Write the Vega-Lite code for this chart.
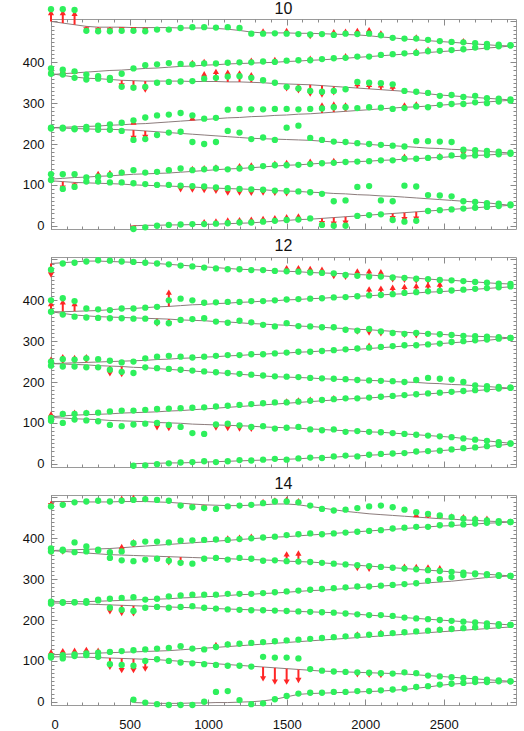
{
  "$schema": "https://vega.github.io/schema/vega-lite/v6.json",
  "background": "white",
  "padding": {"left": 21, "top": 0, "right": 5, "bottom": 5},
  "config": {
    "view": {"stroke": "#9a9a9a", "strokeWidth": 1},
    "font": "Liberation Sans",
    "title": {"fontSize": 16, "font": "Liberation Sans", "fontWeight": "normal", "color": "#111111", "offset": 3, "frame": "group"},
    "axis": {"grid": false, "title": null, "domain": false, "tickColor": "#8a8a8a", "labelFont": "Liberation Sans", "labelFontSize": 13, "labelColor": "#111111"}
  },
  "datasets": {
    "tracks": [
      {"p":10,"t":1,"x":0,"l":500,"g":530,"a":522},
      {"p":10,"t":1,"x":75,"l":496,"g":530,"a":522},
      {"p":10,"t":1,"x":150,"l":492,"g":528,"a":520},
      {"p":10,"t":1,"x":225,"l":488,"g":477,"a":479},
      {"p":10,"t":1,"x":300,"l":486,"g":476,"a":478},
      {"p":10,"t":1,"x":375,"l":486,"g":476,"a":478},
      {"p":10,"t":1,"x":450,"l":486,"g":477,"a":479},
      {"p":10,"t":1,"x":525,"l":485,"g":477,"a":479},
      {"p":10,"t":1,"x":600,"l":485,"g":476,"a":478},
      {"p":10,"t":1,"x":675,"l":485,"g":480},
      {"p":10,"t":1,"x":750,"l":485,"g":480},
      {"p":10,"t":1,"x":825,"l":484,"g":484},
      {"p":10,"t":1,"x":900,"l":484,"g":486},
      {"p":10,"t":1,"x":975,"l":484,"g":486},
      {"p":10,"t":1,"x":1050,"l":483,"g":485},
      {"p":10,"t":1,"x":1125,"l":481,"g":486},
      {"p":10,"t":1,"x":1200,"l":478,"g":484},
      {"p":10,"t":1,"x":1275,"l":474,"g":470},
      {"p":10,"t":1,"x":1350,"l":472,"g":470,"a":477},
      {"p":10,"t":1,"x":1425,"l":472,"g":471},
      {"p":10,"t":1,"x":1500,"l":472,"g":470,"a":478},
      {"p":10,"t":1,"x":1575,"l":471,"g":469},
      {"p":10,"t":1,"x":1650,"l":471,"g":468,"a":463},
      {"p":10,"t":1,"x":1725,"l":470,"g":469},
      {"p":10,"t":1,"x":1800,"l":469,"g":467,"a":475},
      {"p":10,"t":1,"x":1875,"l":468,"g":470,"a":476},
      {"p":10,"t":1,"x":1950,"l":467,"g":469,"a":478},
      {"p":10,"t":1,"x":2025,"l":465,"g":470,"a":480},
      {"p":10,"t":1,"x":2100,"l":462,"g":466,"a":472},
      {"p":10,"t":1,"x":2175,"l":460,"g":460},
      {"p":10,"t":1,"x":2250,"l":457,"g":458},
      {"p":10,"t":1,"x":2325,"l":455,"g":458,"a":462},
      {"p":10,"t":1,"x":2400,"l":453,"g":455},
      {"p":10,"t":1,"x":2475,"l":451,"g":452},
      {"p":10,"t":1,"x":2550,"l":449,"g":450},
      {"p":10,"t":1,"x":2625,"l":447,"g":449,"a":453},
      {"p":10,"t":1,"x":2700,"l":445,"g":447},
      {"p":10,"t":1,"x":2775,"l":443,"g":445},
      {"p":10,"t":1,"x":2850,"l":441,"g":443},
      {"p":10,"t":1,"x":2925,"l":440,"g":442},

      {"p":10,"t":2,"x":0,"l":370,"g":385,"a":381},
      {"p":10,"t":2,"x":75,"l":372,"g":382,"a":380},
      {"p":10,"t":2,"x":150,"l":374,"g":378,"a":378},
      {"p":10,"t":2,"x":225,"l":376,"g":370},
      {"p":10,"t":2,"x":300,"l":378,"g":366},
      {"p":10,"t":2,"x":375,"l":380,"g":362},
      {"p":10,"t":2,"x":450,"l":381,"g":372},
      {"p":10,"t":2,"x":525,"l":383,"g":385},
      {"p":10,"t":2,"x":600,"l":385,"g":393},
      {"p":10,"t":2,"x":675,"l":386,"g":395},
      {"p":10,"t":2,"x":750,"l":388,"g":398},
      {"p":10,"t":2,"x":825,"l":390,"g":396},
      {"p":10,"t":2,"x":900,"l":391,"g":395,"a":400},
      {"p":10,"t":2,"x":975,"l":393,"g":397,"a":402},
      {"p":10,"t":2,"x":1050,"l":394,"g":397},
      {"p":10,"t":2,"x":1125,"l":396,"g":399},
      {"p":10,"t":2,"x":1200,"l":397,"g":400},
      {"p":10,"t":2,"x":1275,"l":398,"g":400,"a":405},
      {"p":10,"t":2,"x":1350,"l":399,"g":402},
      {"p":10,"t":2,"x":1425,"l":400,"g":401,"a":407},
      {"p":10,"t":2,"x":1500,"l":402,"g":404},
      {"p":10,"t":2,"x":1575,"l":403,"g":405},
      {"p":10,"t":2,"x":1650,"l":405,"g":405,"a":410},
      {"p":10,"t":2,"x":1725,"l":406,"g":408},
      {"p":10,"t":2,"x":1800,"l":408,"g":410},
      {"p":10,"t":2,"x":1875,"l":410,"g":411,"a":416},
      {"p":10,"t":2,"x":1950,"l":412,"g":414},
      {"p":10,"t":2,"x":2025,"l":414,"g":414},
      {"p":10,"t":2,"x":2100,"l":416,"g":418},
      {"p":10,"t":2,"x":2175,"l":418,"g":420},
      {"p":10,"t":2,"x":2250,"l":420,"g":422},
      {"p":10,"t":2,"x":2325,"l":422,"g":423,"a":428},
      {"p":10,"t":2,"x":2400,"l":424,"g":427,"a":432},
      {"p":10,"t":2,"x":2475,"l":426,"g":428},
      {"p":10,"t":2,"x":2550,"l":428,"g":430},
      {"p":10,"t":2,"x":2625,"l":430,"g":432},
      {"p":10,"t":2,"x":2700,"l":432,"g":436},
      {"p":10,"t":2,"x":2775,"l":435,"g":437},
      {"p":10,"t":2,"x":2850,"l":437,"g":439},
      {"p":10,"t":2,"x":2925,"l":440,"g":441},

      {"p":10,"t":3,"x":0,"l":372,"g":372},
      {"p":10,"t":3,"x":75,"l":368,"g":370},
      {"p":10,"t":3,"x":150,"l":364,"g":362},
      {"p":10,"t":3,"x":225,"l":361,"g":358},
      {"p":10,"t":3,"x":300,"l":360,"g":360},
      {"p":10,"t":3,"x":375,"l":358,"g":357},
      {"p":10,"t":3,"x":450,"l":356,"g":340,"a":342},
      {"p":10,"t":3,"x":525,"l":355,"g":338,"a":336},
      {"p":10,"t":3,"x":600,"l":354,"g":340,"a":332},
      {"p":10,"t":3,"x":675,"l":354,"g":350},
      {"p":10,"t":3,"x":750,"l":354,"g":352},
      {"p":10,"t":3,"x":825,"l":354,"g":353},
      {"p":10,"t":3,"x":900,"l":353,"g":354},
      {"p":10,"t":3,"x":975,"l":353,"g":360,"a":372},
      {"p":10,"t":3,"x":1050,"l":353,"g":362,"a":378},
      {"p":10,"t":3,"x":1125,"l":352,"g":365,"a":376},
      {"p":10,"t":3,"x":1200,"l":352,"g":366,"a":374},
      {"p":10,"t":3,"x":1275,"l":351,"g":362,"a":370},
      {"p":10,"t":3,"x":1350,"l":350,"g":356},
      {"p":10,"t":3,"x":1425,"l":348,"g":350},
      {"p":10,"t":3,"x":1500,"l":347,"g":340,"a":335},
      {"p":10,"t":3,"x":1575,"l":346,"g":336,"a":330},
      {"p":10,"t":3,"x":1650,"l":345,"g":330,"a":322},
      {"p":10,"t":3,"x":1725,"l":343,"g":328,"a":320},
      {"p":10,"t":3,"x":1800,"l":341,"g":330,"a":325},
      {"p":10,"t":3,"x":1875,"l":339,"g":334},
      {"p":10,"t":3,"x":1950,"l":337,"g":352,"a":348},
      {"p":10,"t":3,"x":2025,"l":335,"g":350,"a":346},
      {"p":10,"t":3,"x":2100,"l":333,"g":349,"a":345},
      {"p":10,"t":3,"x":2175,"l":331,"g":346,"a":342},
      {"p":10,"t":3,"x":2250,"l":329,"g":330},
      {"p":10,"t":3,"x":2325,"l":326,"g":328},
      {"p":10,"t":3,"x":2400,"l":323,"g":325},
      {"p":10,"t":3,"x":2475,"l":320,"g":318},
      {"p":10,"t":3,"x":2550,"l":318,"g":320},
      {"p":10,"t":3,"x":2625,"l":316,"g":315},
      {"p":10,"t":3,"x":2700,"l":314,"g":318},
      {"p":10,"t":3,"x":2775,"l":312,"g":312},
      {"p":10,"t":3,"x":2850,"l":310,"g":311},
      {"p":10,"t":3,"x":2925,"l":308,"g":309},

      {"p":10,"t":4,"x":0,"l":240,"g":240},
      {"p":10,"t":4,"x":75,"l":241,"g":240},
      {"p":10,"t":4,"x":150,"l":242,"g":238},
      {"p":10,"t":4,"x":225,"l":243,"g":242},
      {"p":10,"t":4,"x":300,"l":244,"g":245},
      {"p":10,"t":4,"x":375,"l":246,"g":248},
      {"p":10,"t":4,"x":450,"l":247,"g":252},
      {"p":10,"t":4,"x":525,"l":249,"g":258,"a":254},
      {"p":10,"t":4,"x":600,"l":250,"g":265},
      {"p":10,"t":4,"x":675,"l":252,"g":270},
      {"p":10,"t":4,"x":750,"l":254,"g":272},
      {"p":10,"t":4,"x":825,"l":256,"g":276},
      {"p":10,"t":4,"x":900,"l":258,"g":270,"a":264},
      {"p":10,"t":4,"x":975,"l":260,"g":262},
      {"p":10,"t":4,"x":1050,"l":262,"g":264},
      {"p":10,"t":4,"x":1125,"l":264,"g":284},
      {"p":10,"t":4,"x":1200,"l":265,"g":286},
      {"p":10,"t":4,"x":1275,"l":267,"g":285},
      {"p":10,"t":4,"x":1350,"l":268,"g":285},
      {"p":10,"t":4,"x":1425,"l":270,"g":286},
      {"p":10,"t":4,"x":1500,"l":271,"g":286},
      {"p":10,"t":4,"x":1575,"l":273,"g":285},
      {"p":10,"t":4,"x":1650,"l":274,"g":286},
      {"p":10,"t":4,"x":1725,"l":276,"g":287,"a":296},
      {"p":10,"t":4,"x":1800,"l":278,"g":290,"a":298},
      {"p":10,"t":4,"x":1875,"l":280,"g":290,"a":296},
      {"p":10,"t":4,"x":1950,"l":282,"g":288},
      {"p":10,"t":4,"x":2025,"l":284,"g":290},
      {"p":10,"t":4,"x":2100,"l":286,"g":289},
      {"p":10,"t":4,"x":2175,"l":288,"g":286},
      {"p":10,"t":4,"x":2250,"l":290,"g":288,"a":296},
      {"p":10,"t":4,"x":2325,"l":291,"g":292,"a":298},
      {"p":10,"t":4,"x":2400,"l":293,"g":290},
      {"p":10,"t":4,"x":2475,"l":295,"g":296},
      {"p":10,"t":4,"x":2550,"l":297,"g":298},
      {"p":10,"t":4,"x":2625,"l":299,"g":298},
      {"p":10,"t":4,"x":2700,"l":301,"g":302},
      {"p":10,"t":4,"x":2775,"l":303,"g":300},
      {"p":10,"t":4,"x":2850,"l":305,"g":304},
      {"p":10,"t":4,"x":2925,"l":307,"g":306},

      {"p":10,"t":5,"x":0,"l":240,"g":238},
      {"p":10,"t":5,"x":75,"l":239,"g":238},
      {"p":10,"t":5,"x":150,"l":238,"g":236},
      {"p":10,"t":5,"x":225,"l":237,"g":236},
      {"p":10,"t":5,"x":300,"l":236,"g":235},
      {"p":10,"t":5,"x":375,"l":236,"g":235},
      {"p":10,"t":5,"x":450,"l":235,"g":232},
      {"p":10,"t":5,"x":525,"l":234,"g":210,"a":214},
      {"p":10,"t":5,"x":600,"l":232,"g":212,"a":216},
      {"p":10,"t":5,"x":675,"l":230,"g":222},
      {"p":10,"t":5,"x":750,"l":228,"g":228},
      {"p":10,"t":5,"x":825,"l":226,"g":230},
      {"p":10,"t":5,"x":900,"l":224,"g":205},
      {"p":10,"t":5,"x":975,"l":222,"g":200},
      {"p":10,"t":5,"x":1050,"l":220,"g":205},
      {"p":10,"t":5,"x":1125,"l":218,"g":232},
      {"p":10,"t":5,"x":1200,"l":216,"g":228},
      {"p":10,"t":5,"x":1275,"l":214,"g":212},
      {"p":10,"t":5,"x":1350,"l":213,"g":216},
      {"p":10,"t":5,"x":1425,"l":212,"g":210},
      {"p":10,"t":5,"x":1500,"l":211,"g":240},
      {"p":10,"t":5,"x":1575,"l":210,"g":245},
      {"p":10,"t":5,"x":1650,"l":209,"g":215},
      {"p":10,"t":5,"x":1725,"l":207,"g":210},
      {"p":10,"t":5,"x":1800,"l":205,"g":206},
      {"p":10,"t":5,"x":1875,"l":203,"g":205},
      {"p":10,"t":5,"x":1950,"l":201,"g":202},
      {"p":10,"t":5,"x":2025,"l":199,"g":200},
      {"p":10,"t":5,"x":2100,"l":197,"g":198},
      {"p":10,"t":5,"x":2175,"l":196,"g":196},
      {"p":10,"t":5,"x":2250,"l":194,"g":194},
      {"p":10,"t":5,"x":2325,"l":192,"g":207},
      {"p":10,"t":5,"x":2400,"l":190,"g":207},
      {"p":10,"t":5,"x":2475,"l":189,"g":206},
      {"p":10,"t":5,"x":2550,"l":187,"g":205},
      {"p":10,"t":5,"x":2625,"l":186,"g":186,"a":176},
      {"p":10,"t":5,"x":2700,"l":184,"g":185,"a":175},
      {"p":10,"t":5,"x":2775,"l":182,"g":183,"a":173},
      {"p":10,"t":5,"x":2850,"l":180,"g":181},
      {"p":10,"t":5,"x":2925,"l":178,"g":179},

      {"p":10,"t":6,"x":0,"l":114,"g":126},
      {"p":10,"t":6,"x":75,"l":116,"g":126},
      {"p":10,"t":6,"x":150,"l":118,"g":126},
      {"p":10,"t":6,"x":225,"l":119,"g":118},
      {"p":10,"t":6,"x":300,"l":121,"g":120,"a":128},
      {"p":10,"t":6,"x":375,"l":122,"g":124,"a":130},
      {"p":10,"t":6,"x":450,"l":124,"g":130,"a":132},
      {"p":10,"t":6,"x":525,"l":126,"g":136},
      {"p":10,"t":6,"x":600,"l":127,"g":130},
      {"p":10,"t":6,"x":675,"l":128,"g":132},
      {"p":10,"t":6,"x":750,"l":129,"g":136,"a":138},
      {"p":10,"t":6,"x":825,"l":131,"g":140},
      {"p":10,"t":6,"x":900,"l":133,"g":136,"a":140},
      {"p":10,"t":6,"x":975,"l":135,"g":138,"a":142},
      {"p":10,"t":6,"x":1050,"l":137,"g":140,"a":144},
      {"p":10,"t":6,"x":1125,"l":139,"g":138},
      {"p":10,"t":6,"x":1200,"l":140,"g":140,"a":147},
      {"p":10,"t":6,"x":1275,"l":142,"g":142,"a":149},
      {"p":10,"t":6,"x":1350,"l":144,"g":146},
      {"p":10,"t":6,"x":1425,"l":146,"g":148,"a":153},
      {"p":10,"t":6,"x":1500,"l":148,"g":148,"a":155},
      {"p":10,"t":6,"x":1575,"l":149,"g":149},
      {"p":10,"t":6,"x":1650,"l":151,"g":151,"a":158},
      {"p":10,"t":6,"x":1725,"l":153,"g":153},
      {"p":10,"t":6,"x":1800,"l":154,"g":154,"a":160},
      {"p":10,"t":6,"x":1875,"l":156,"g":156},
      {"p":10,"t":6,"x":1950,"l":157,"g":157},
      {"p":10,"t":6,"x":2025,"l":158,"g":158},
      {"p":10,"t":6,"x":2100,"l":160,"g":160},
      {"p":10,"t":6,"x":2175,"l":161,"g":160},
      {"p":10,"t":6,"x":2250,"l":163,"g":164,"a":170},
      {"p":10,"t":6,"x":2325,"l":164,"g":164},
      {"p":10,"t":6,"x":2400,"l":166,"g":166},
      {"p":10,"t":6,"x":2475,"l":167,"g":168,"a":172},
      {"p":10,"t":6,"x":2550,"l":169,"g":172},
      {"p":10,"t":6,"x":2625,"l":170,"g":170},
      {"p":10,"t":6,"x":2700,"l":172,"g":172,"a":180},
      {"p":10,"t":6,"x":2775,"l":173,"g":173},
      {"p":10,"t":6,"x":2850,"l":175,"g":175,"a":180},
      {"p":10,"t":6,"x":2925,"l":176,"g":176},

      {"p":10,"t":7,"x":0,"l":110,"g":112},
      {"p":10,"t":7,"x":75,"l":108,"g":90,"a":92},
      {"p":10,"t":7,"x":150,"l":106,"g":95,"a":97},
      {"p":10,"t":7,"x":225,"l":105,"g":108},
      {"p":10,"t":7,"x":300,"l":104,"g":108},
      {"p":10,"t":7,"x":375,"l":103,"g":106},
      {"p":10,"t":7,"x":450,"l":102,"g":106},
      {"p":10,"t":7,"x":525,"l":100,"g":104},
      {"p":10,"t":7,"x":600,"l":99,"g":102},
      {"p":10,"t":7,"x":675,"l":98,"g":100},
      {"p":10,"t":7,"x":750,"l":97,"g":100},
      {"p":10,"t":7,"x":825,"l":96,"g":98,"a":88},
      {"p":10,"t":7,"x":900,"l":95,"g":97,"a":87},
      {"p":10,"t":7,"x":975,"l":93,"g":96,"a":86},
      {"p":10,"t":7,"x":1050,"l":92,"g":94,"a":84},
      {"p":10,"t":7,"x":1125,"l":91,"g":92,"a":80},
      {"p":10,"t":7,"x":1200,"l":90,"g":90,"a":80},
      {"p":10,"t":7,"x":1275,"l":89,"g":89,"a":79},
      {"p":10,"t":7,"x":1350,"l":88,"g":88,"a":80},
      {"p":10,"t":7,"x":1425,"l":86,"g":86,"a":79},
      {"p":10,"t":7,"x":1500,"l":85,"g":85,"a":78},
      {"p":10,"t":7,"x":1575,"l":84,"g":84},
      {"p":10,"t":7,"x":1650,"l":82,"g":82},
      {"p":10,"t":7,"x":1725,"l":81,"g":78},
      {"p":10,"t":7,"x":1800,"l":79,"g":60},
      {"p":10,"t":7,"x":1875,"l":78,"g":62},
      {"p":10,"t":7,"x":1950,"l":76,"g":95},
      {"p":10,"t":7,"x":2025,"l":75,"g":97},
      {"p":10,"t":7,"x":2100,"l":73,"g":62},
      {"p":10,"t":7,"x":2175,"l":72,"g":60},
      {"p":10,"t":7,"x":2250,"l":70,"g":98},
      {"p":10,"t":7,"x":2325,"l":68,"g":96},
      {"p":10,"t":7,"x":2400,"l":66,"g":75},
      {"p":10,"t":7,"x":2475,"l":64,"g":74},
      {"p":10,"t":7,"x":2550,"l":62,"g":72},
      {"p":10,"t":7,"x":2625,"l":60,"g":60},
      {"p":10,"t":7,"x":2700,"l":58,"g":58},
      {"p":10,"t":7,"x":2775,"l":56,"g":55},
      {"p":10,"t":7,"x":2850,"l":53,"g":54},
      {"p":10,"t":7,"x":2925,"l":50,"g":52},

      {"p":10,"t":8,"x":525,"l":0,"g":-8,"a":-6},
      {"p":10,"t":8,"x":600,"l":1,"g":-4},
      {"p":10,"t":8,"x":675,"l":1,"g":0},
      {"p":10,"t":8,"x":750,"l":2,"g":2},
      {"p":10,"t":8,"x":825,"l":2,"g":3},
      {"p":10,"t":8,"x":900,"l":3,"g":4},
      {"p":10,"t":8,"x":975,"l":3,"g":4,"a":10},
      {"p":10,"t":8,"x":1050,"l":4,"g":5,"a":12},
      {"p":10,"t":8,"x":1125,"l":5,"g":6,"a":14},
      {"p":10,"t":8,"x":1200,"l":6,"g":8,"a":15},
      {"p":10,"t":8,"x":1275,"l":7,"g":8,"a":16},
      {"p":10,"t":8,"x":1350,"l":9,"g":10,"a":18},
      {"p":10,"t":8,"x":1425,"l":11,"g":12,"a":20},
      {"p":10,"t":8,"x":1500,"l":13,"g":14,"a":22},
      {"p":10,"t":8,"x":1575,"l":15,"g":15,"a":24},
      {"p":10,"t":8,"x":1650,"l":16,"g":18},
      {"p":10,"t":8,"x":1725,"l":18,"g":2,"a":5},
      {"p":10,"t":8,"x":1800,"l":20,"g":0,"a":4},
      {"p":10,"t":8,"x":1875,"l":22,"g":0,"a":6},
      {"p":10,"t":8,"x":1950,"l":24,"g":24},
      {"p":10,"t":8,"x":2025,"l":26,"g":26},
      {"p":10,"t":8,"x":2100,"l":28,"g":28},
      {"p":10,"t":8,"x":2175,"l":30,"g":14,"a":17},
      {"p":10,"t":8,"x":2250,"l":32,"g":10,"a":15},
      {"p":10,"t":8,"x":2325,"l":34,"g":12,"a":16},
      {"p":10,"t":8,"x":2400,"l":36,"g":36},
      {"p":10,"t":8,"x":2475,"l":38,"g":38},
      {"p":10,"t":8,"x":2550,"l":40,"g":40},
      {"p":10,"t":8,"x":2625,"l":42,"g":42},
      {"p":10,"t":8,"x":2700,"l":44,"g":44},
      {"p":10,"t":8,"x":2775,"l":46,"g":46},
      {"p":10,"t":8,"x":2850,"l":48,"g":48},
      {"p":10,"t":8,"x":2925,"l":50,"g":50},

      {"p":12,"t":1,"x":0,"l":490,"g":475,"a":462},
      {"p":12,"t":1,"x":75,"l":492,"g":490},
      {"p":12,"t":1,"x":150,"l":494,"g":492},
      {"p":12,"t":1,"x":225,"l":496,"g":495},
      {"p":12,"t":1,"x":300,"l":496,"g":498},
      {"p":12,"t":1,"x":375,"l":495,"g":497},
      {"p":12,"t":1,"x":450,"l":494,"g":495},
      {"p":12,"t":1,"x":525,"l":493,"g":494},
      {"p":12,"t":1,"x":600,"l":492,"g":492},
      {"p":12,"t":1,"x":675,"l":490,"g":490},
      {"p":12,"t":1,"x":750,"l":488,"g":488},
      {"p":12,"t":1,"x":825,"l":486,"g":485},
      {"p":12,"t":1,"x":900,"l":484,"g":483},
      {"p":12,"t":1,"x":975,"l":482,"g":480},
      {"p":12,"t":1,"x":1050,"l":480,"g":478},
      {"p":12,"t":1,"x":1125,"l":478,"g":476},
      {"p":12,"t":1,"x":1200,"l":476,"g":476},
      {"p":12,"t":1,"x":1275,"l":475,"g":474},
      {"p":12,"t":1,"x":1350,"l":474,"g":474},
      {"p":12,"t":1,"x":1425,"l":472,"g":472},
      {"p":12,"t":1,"x":1500,"l":471,"g":471,"a":480},
      {"p":12,"t":1,"x":1575,"l":470,"g":470,"a":480},
      {"p":12,"t":1,"x":1650,"l":468,"g":468,"a":478},
      {"p":12,"t":1,"x":1725,"l":467,"g":467,"a":476},
      {"p":12,"t":1,"x":1800,"l":466,"g":466,"a":458},
      {"p":12,"t":1,"x":1875,"l":465,"g":462,"a":456},
      {"p":12,"t":1,"x":1950,"l":463,"g":460,"a":472},
      {"p":12,"t":1,"x":2025,"l":462,"g":458,"a":472},
      {"p":12,"t":1,"x":2100,"l":460,"g":458,"a":470},
      {"p":12,"t":1,"x":2175,"l":458,"g":456,"a":450},
      {"p":12,"t":1,"x":2250,"l":456,"g":455,"a":449},
      {"p":12,"t":1,"x":2325,"l":454,"g":453,"a":447},
      {"p":12,"t":1,"x":2400,"l":452,"g":452,"a":446},
      {"p":12,"t":1,"x":2475,"l":450,"g":450},
      {"p":12,"t":1,"x":2550,"l":449,"g":449},
      {"p":12,"t":1,"x":2625,"l":447,"g":447},
      {"p":12,"t":1,"x":2700,"l":445,"g":445},
      {"p":12,"t":1,"x":2775,"l":443,"g":443},
      {"p":12,"t":1,"x":2850,"l":441,"g":441},
      {"p":12,"t":1,"x":2925,"l":440,"g":440},

      {"p":12,"t":2,"x":0,"l":372,"g":400,"a":392},
      {"p":12,"t":2,"x":75,"l":372,"g":405,"a":396},
      {"p":12,"t":2,"x":150,"l":373,"g":398,"a":392},
      {"p":12,"t":2,"x":225,"l":374,"g":380},
      {"p":12,"t":2,"x":300,"l":375,"g":378},
      {"p":12,"t":2,"x":375,"l":377,"g":376},
      {"p":12,"t":2,"x":450,"l":379,"g":380},
      {"p":12,"t":2,"x":525,"l":380,"g":380},
      {"p":12,"t":2,"x":600,"l":382,"g":382},
      {"p":12,"t":2,"x":675,"l":384,"g":384},
      {"p":12,"t":2,"x":750,"l":385,"g":400,"a":420},
      {"p":12,"t":2,"x":825,"l":387,"g":404},
      {"p":12,"t":2,"x":900,"l":389,"g":400},
      {"p":12,"t":2,"x":975,"l":390,"g":394},
      {"p":12,"t":2,"x":1050,"l":392,"g":395},
      {"p":12,"t":2,"x":1125,"l":393,"g":396},
      {"p":12,"t":2,"x":1200,"l":395,"g":396},
      {"p":12,"t":2,"x":1275,"l":396,"g":398},
      {"p":12,"t":2,"x":1350,"l":398,"g":398},
      {"p":12,"t":2,"x":1425,"l":399,"g":400},
      {"p":12,"t":2,"x":1500,"l":401,"g":402},
      {"p":12,"t":2,"x":1575,"l":402,"g":403},
      {"p":12,"t":2,"x":1650,"l":404,"g":404},
      {"p":12,"t":2,"x":1725,"l":405,"g":405},
      {"p":12,"t":2,"x":1800,"l":407,"g":407},
      {"p":12,"t":2,"x":1875,"l":408,"g":408},
      {"p":12,"t":2,"x":1950,"l":410,"g":410},
      {"p":12,"t":2,"x":2025,"l":411,"g":412,"a":428},
      {"p":12,"t":2,"x":2100,"l":413,"g":413,"a":430},
      {"p":12,"t":2,"x":2175,"l":415,"g":415,"a":432},
      {"p":12,"t":2,"x":2250,"l":416,"g":418,"a":434},
      {"p":12,"t":2,"x":2325,"l":418,"g":420,"a":436},
      {"p":12,"t":2,"x":2400,"l":420,"g":422,"a":438},
      {"p":12,"t":2,"x":2475,"l":421,"g":423,"a":440},
      {"p":12,"t":2,"x":2550,"l":423,"g":424},
      {"p":12,"t":2,"x":2625,"l":425,"g":426},
      {"p":12,"t":2,"x":2700,"l":427,"g":428},
      {"p":12,"t":2,"x":2775,"l":429,"g":430},
      {"p":12,"t":2,"x":2850,"l":431,"g":432},
      {"p":12,"t":2,"x":2925,"l":433,"g":434},

      {"p":12,"t":3,"x":0,"l":372,"g":372},
      {"p":12,"t":3,"x":75,"l":368,"g":365},
      {"p":12,"t":3,"x":150,"l":364,"g":360},
      {"p":12,"t":3,"x":225,"l":362,"g":358},
      {"p":12,"t":3,"x":300,"l":360,"g":357},
      {"p":12,"t":3,"x":375,"l":359,"g":356},
      {"p":12,"t":3,"x":450,"l":358,"g":356},
      {"p":12,"t":3,"x":525,"l":357,"g":355},
      {"p":12,"t":3,"x":600,"l":356,"g":355},
      {"p":12,"t":3,"x":675,"l":355,"g":346,"a":342},
      {"p":12,"t":3,"x":750,"l":354,"g":344,"a":342},
      {"p":12,"t":3,"x":825,"l":352,"g":352},
      {"p":12,"t":3,"x":900,"l":351,"g":354},
      {"p":12,"t":3,"x":975,"l":350,"g":356},
      {"p":12,"t":3,"x":1050,"l":348,"g":348},
      {"p":12,"t":3,"x":1125,"l":347,"g":345},
      {"p":12,"t":3,"x":1200,"l":345,"g":350},
      {"p":12,"t":3,"x":1275,"l":343,"g":346},
      {"p":12,"t":3,"x":1350,"l":342,"g":340},
      {"p":12,"t":3,"x":1425,"l":340,"g":336},
      {"p":12,"t":3,"x":1500,"l":339,"g":344},
      {"p":12,"t":3,"x":1575,"l":337,"g":337},
      {"p":12,"t":3,"x":1650,"l":336,"g":336},
      {"p":12,"t":3,"x":1725,"l":334,"g":334},
      {"p":12,"t":3,"x":1800,"l":332,"g":334},
      {"p":12,"t":3,"x":1875,"l":331,"g":328},
      {"p":12,"t":3,"x":1950,"l":329,"g":326,"a":322},
      {"p":12,"t":3,"x":2025,"l":328,"g":330,"a":320},
      {"p":12,"t":3,"x":2100,"l":326,"g":324,"a":318},
      {"p":12,"t":3,"x":2175,"l":324,"g":320},
      {"p":12,"t":3,"x":2250,"l":322,"g":318,"a":314},
      {"p":12,"t":3,"x":2325,"l":320,"g":320,"a":313},
      {"p":12,"t":3,"x":2400,"l":318,"g":318},
      {"p":12,"t":3,"x":2475,"l":317,"g":317},
      {"p":12,"t":3,"x":2550,"l":315,"g":315},
      {"p":12,"t":3,"x":2625,"l":313,"g":313},
      {"p":12,"t":3,"x":2700,"l":312,"g":312},
      {"p":12,"t":3,"x":2775,"l":311,"g":311},
      {"p":12,"t":3,"x":2850,"l":310,"g":310},
      {"p":12,"t":3,"x":2925,"l":308,"g":308},

      {"p":12,"t":4,"x":0,"l":245,"g":250,"a":256},
      {"p":12,"t":4,"x":75,"l":246,"g":256,"a":262},
      {"p":12,"t":4,"x":150,"l":247,"g":255,"a":260},
      {"p":12,"t":4,"x":225,"l":248,"g":258,"a":262},
      {"p":12,"t":4,"x":300,"l":249,"g":256},
      {"p":12,"t":4,"x":375,"l":250,"g":252},
      {"p":12,"t":4,"x":450,"l":251,"g":248},
      {"p":12,"t":4,"x":525,"l":252,"g":250},
      {"p":12,"t":4,"x":600,"l":253,"g":258},
      {"p":12,"t":4,"x":675,"l":255,"g":262},
      {"p":12,"t":4,"x":750,"l":256,"g":264},
      {"p":12,"t":4,"x":825,"l":258,"g":262},
      {"p":12,"t":4,"x":900,"l":259,"g":260},
      {"p":12,"t":4,"x":975,"l":261,"g":262},
      {"p":12,"t":4,"x":1050,"l":262,"g":264},
      {"p":12,"t":4,"x":1125,"l":264,"g":266},
      {"p":12,"t":4,"x":1200,"l":265,"g":266},
      {"p":12,"t":4,"x":1275,"l":267,"g":268},
      {"p":12,"t":4,"x":1350,"l":268,"g":268},
      {"p":12,"t":4,"x":1425,"l":270,"g":270},
      {"p":12,"t":4,"x":1500,"l":271,"g":272},
      {"p":12,"t":4,"x":1575,"l":273,"g":274},
      {"p":12,"t":4,"x":1650,"l":274,"g":274},
      {"p":12,"t":4,"x":1725,"l":276,"g":276},
      {"p":12,"t":4,"x":1800,"l":277,"g":278},
      {"p":12,"t":4,"x":1875,"l":279,"g":280},
      {"p":12,"t":4,"x":1950,"l":280,"g":282},
      {"p":12,"t":4,"x":2025,"l":282,"g":284,"a":290},
      {"p":12,"t":4,"x":2100,"l":284,"g":286},
      {"p":12,"t":4,"x":2175,"l":286,"g":288},
      {"p":12,"t":4,"x":2250,"l":288,"g":290},
      {"p":12,"t":4,"x":2325,"l":290,"g":290},
      {"p":12,"t":4,"x":2400,"l":292,"g":292},
      {"p":12,"t":4,"x":2475,"l":294,"g":294},
      {"p":12,"t":4,"x":2550,"l":296,"g":298},
      {"p":12,"t":4,"x":2625,"l":298,"g":300},
      {"p":12,"t":4,"x":2700,"l":300,"g":302},
      {"p":12,"t":4,"x":2775,"l":302,"g":304},
      {"p":12,"t":4,"x":2850,"l":305,"g":306},
      {"p":12,"t":4,"x":2925,"l":308,"g":308},

      {"p":12,"t":5,"x":0,"l":245,"g":240},
      {"p":12,"t":5,"x":75,"l":244,"g":238},
      {"p":12,"t":5,"x":150,"l":243,"g":238},
      {"p":12,"t":5,"x":225,"l":242,"g":236},
      {"p":12,"t":5,"x":300,"l":240,"g":236},
      {"p":12,"t":5,"x":375,"l":239,"g":230,"a":220},
      {"p":12,"t":5,"x":450,"l":238,"g":225,"a":218},
      {"p":12,"t":5,"x":525,"l":236,"g":222},
      {"p":12,"t":5,"x":600,"l":235,"g":236},
      {"p":12,"t":5,"x":675,"l":233,"g":234},
      {"p":12,"t":5,"x":750,"l":231,"g":232},
      {"p":12,"t":5,"x":825,"l":229,"g":230},
      {"p":12,"t":5,"x":900,"l":227,"g":228},
      {"p":12,"t":5,"x":975,"l":225,"g":226},
      {"p":12,"t":5,"x":1050,"l":223,"g":224},
      {"p":12,"t":5,"x":1125,"l":221,"g":222},
      {"p":12,"t":5,"x":1200,"l":219,"g":220},
      {"p":12,"t":5,"x":1275,"l":217,"g":218},
      {"p":12,"t":5,"x":1350,"l":215,"g":216},
      {"p":12,"t":5,"x":1425,"l":213,"g":214},
      {"p":12,"t":5,"x":1500,"l":212,"g":213},
      {"p":12,"t":5,"x":1575,"l":211,"g":212},
      {"p":12,"t":5,"x":1650,"l":210,"g":210},
      {"p":12,"t":5,"x":1725,"l":208,"g":209},
      {"p":12,"t":5,"x":1800,"l":207,"g":208},
      {"p":12,"t":5,"x":1875,"l":206,"g":207},
      {"p":12,"t":5,"x":1950,"l":205,"g":205},
      {"p":12,"t":5,"x":2025,"l":204,"g":204},
      {"p":12,"t":5,"x":2100,"l":203,"g":203},
      {"p":12,"t":5,"x":2175,"l":201,"g":202},
      {"p":12,"t":5,"x":2250,"l":200,"g":200},
      {"p":12,"t":5,"x":2325,"l":199,"g":205},
      {"p":12,"t":5,"x":2400,"l":197,"g":210},
      {"p":12,"t":5,"x":2475,"l":196,"g":208},
      {"p":12,"t":5,"x":2550,"l":194,"g":206},
      {"p":12,"t":5,"x":2625,"l":193,"g":200},
      {"p":12,"t":5,"x":2700,"l":191,"g":192},
      {"p":12,"t":5,"x":2775,"l":189,"g":190},
      {"p":12,"t":5,"x":2850,"l":187,"g":188},
      {"p":12,"t":5,"x":2925,"l":185,"g":186},

      {"p":12,"t":6,"x":0,"l":115,"g":112,"a":122},
      {"p":12,"t":6,"x":75,"l":117,"g":122,"a":124},
      {"p":12,"t":6,"x":150,"l":119,"g":122,"a":126},
      {"p":12,"t":6,"x":225,"l":120,"g":124,"a":126},
      {"p":12,"t":6,"x":300,"l":121,"g":125},
      {"p":12,"t":6,"x":375,"l":122,"g":128},
      {"p":12,"t":6,"x":450,"l":124,"g":130},
      {"p":12,"t":6,"x":525,"l":125,"g":130},
      {"p":12,"t":6,"x":600,"l":126,"g":132},
      {"p":12,"t":6,"x":675,"l":127,"g":134},
      {"p":12,"t":6,"x":750,"l":129,"g":135},
      {"p":12,"t":6,"x":825,"l":130,"g":136},
      {"p":12,"t":6,"x":900,"l":132,"g":137},
      {"p":12,"t":6,"x":975,"l":134,"g":138},
      {"p":12,"t":6,"x":1050,"l":136,"g":140},
      {"p":12,"t":6,"x":1125,"l":138,"g":142},
      {"p":12,"t":6,"x":1200,"l":140,"g":144},
      {"p":12,"t":6,"x":1275,"l":142,"g":146},
      {"p":12,"t":6,"x":1350,"l":144,"g":148},
      {"p":12,"t":6,"x":1425,"l":146,"g":150},
      {"p":12,"t":6,"x":1500,"l":148,"g":150,"a":154},
      {"p":12,"t":6,"x":1575,"l":150,"g":152,"a":156},
      {"p":12,"t":6,"x":1650,"l":152,"g":154,"a":158},
      {"p":12,"t":6,"x":1725,"l":154,"g":156},
      {"p":12,"t":6,"x":1800,"l":156,"g":158,"a":162},
      {"p":12,"t":6,"x":1875,"l":158,"g":160},
      {"p":12,"t":6,"x":1950,"l":160,"g":160},
      {"p":12,"t":6,"x":2025,"l":161,"g":162},
      {"p":12,"t":6,"x":2100,"l":163,"g":164},
      {"p":12,"t":6,"x":2175,"l":165,"g":166},
      {"p":12,"t":6,"x":2250,"l":167,"g":168},
      {"p":12,"t":6,"x":2325,"l":169,"g":170},
      {"p":12,"t":6,"x":2400,"l":171,"g":172},
      {"p":12,"t":6,"x":2475,"l":173,"g":174},
      {"p":12,"t":6,"x":2550,"l":175,"g":176},
      {"p":12,"t":6,"x":2625,"l":177,"g":178},
      {"p":12,"t":6,"x":2700,"l":179,"g":180},
      {"p":12,"t":6,"x":2775,"l":181,"g":182},
      {"p":12,"t":6,"x":2850,"l":183,"g":184},
      {"p":12,"t":6,"x":2925,"l":185,"g":186},

      {"p":12,"t":7,"x":0,"l":113,"g":105},
      {"p":12,"t":7,"x":75,"l":112,"g":100},
      {"p":12,"t":7,"x":150,"l":110,"g":108},
      {"p":12,"t":7,"x":225,"l":109,"g":106},
      {"p":12,"t":7,"x":300,"l":108,"g":104},
      {"p":12,"t":7,"x":375,"l":106,"g":95},
      {"p":12,"t":7,"x":450,"l":105,"g":92},
      {"p":12,"t":7,"x":525,"l":104,"g":96},
      {"p":12,"t":7,"x":600,"l":103,"g":98},
      {"p":12,"t":7,"x":675,"l":101,"g":100,"a":88},
      {"p":12,"t":7,"x":750,"l":100,"g":95,"a":86},
      {"p":12,"t":7,"x":825,"l":99,"g":90},
      {"p":12,"t":7,"x":900,"l":97,"g":75},
      {"p":12,"t":7,"x":975,"l":96,"g":73},
      {"p":12,"t":7,"x":1050,"l":95,"g":96,"a":87},
      {"p":12,"t":7,"x":1125,"l":94,"g":98,"a":86},
      {"p":12,"t":7,"x":1200,"l":93,"g":94,"a":85},
      {"p":12,"t":7,"x":1275,"l":92,"g":90,"a":84},
      {"p":12,"t":7,"x":1350,"l":90,"g":92},
      {"p":12,"t":7,"x":1425,"l":89,"g":86},
      {"p":12,"t":7,"x":1500,"l":88,"g":88},
      {"p":12,"t":7,"x":1575,"l":87,"g":90},
      {"p":12,"t":7,"x":1650,"l":85,"g":84},
      {"p":12,"t":7,"x":1725,"l":84,"g":82},
      {"p":12,"t":7,"x":1800,"l":82,"g":84},
      {"p":12,"t":7,"x":1875,"l":81,"g":78},
      {"p":12,"t":7,"x":1950,"l":80,"g":80},
      {"p":12,"t":7,"x":2025,"l":78,"g":78},
      {"p":12,"t":7,"x":2100,"l":77,"g":77},
      {"p":12,"t":7,"x":2175,"l":75,"g":75},
      {"p":12,"t":7,"x":2250,"l":73,"g":73},
      {"p":12,"t":7,"x":2325,"l":71,"g":71},
      {"p":12,"t":7,"x":2400,"l":69,"g":69},
      {"p":12,"t":7,"x":2475,"l":67,"g":67},
      {"p":12,"t":7,"x":2550,"l":65,"g":65},
      {"p":12,"t":7,"x":2625,"l":62,"g":62},
      {"p":12,"t":7,"x":2700,"l":59,"g":59},
      {"p":12,"t":7,"x":2775,"l":56,"g":56},
      {"p":12,"t":7,"x":2850,"l":53,"g":53},
      {"p":12,"t":7,"x":2925,"l":50,"g":50},

      {"p":12,"t":8,"x":525,"l":0,"g":-5},
      {"p":12,"t":8,"x":600,"l":1,"g":-4},
      {"p":12,"t":8,"x":675,"l":1,"g":-1},
      {"p":12,"t":8,"x":750,"l":2,"g":1},
      {"p":12,"t":8,"x":825,"l":2,"g":3},
      {"p":12,"t":8,"x":900,"l":3,"g":4},
      {"p":12,"t":8,"x":975,"l":4,"g":6},
      {"p":12,"t":8,"x":1050,"l":5,"g":4},
      {"p":12,"t":8,"x":1125,"l":6,"g":6},
      {"p":12,"t":8,"x":1200,"l":7,"g":9},
      {"p":12,"t":8,"x":1275,"l":8,"g":8},
      {"p":12,"t":8,"x":1350,"l":9,"g":10},
      {"p":12,"t":8,"x":1425,"l":10,"g":12},
      {"p":12,"t":8,"x":1500,"l":11,"g":10},
      {"p":12,"t":8,"x":1575,"l":12,"g":13},
      {"p":12,"t":8,"x":1650,"l":14,"g":15},
      {"p":12,"t":8,"x":1725,"l":15,"g":14},
      {"p":12,"t":8,"x":1800,"l":16,"g":18},
      {"p":12,"t":8,"x":1875,"l":18,"g":20},
      {"p":12,"t":8,"x":1950,"l":19,"g":18},
      {"p":12,"t":8,"x":2025,"l":21,"g":22},
      {"p":12,"t":8,"x":2100,"l":22,"g":24},
      {"p":12,"t":8,"x":2175,"l":24,"g":25},
      {"p":12,"t":8,"x":2250,"l":26,"g":26},
      {"p":12,"t":8,"x":2325,"l":28,"g":30},
      {"p":12,"t":8,"x":2400,"l":30,"g":31},
      {"p":12,"t":8,"x":2475,"l":32,"g":32},
      {"p":12,"t":8,"x":2550,"l":34,"g":35},
      {"p":12,"t":8,"x":2625,"l":36,"g":38},
      {"p":12,"t":8,"x":2700,"l":39,"g":40},
      {"p":12,"t":8,"x":2775,"l":42,"g":43},
      {"p":12,"t":8,"x":2850,"l":45,"g":46},
      {"p":12,"t":8,"x":2925,"l":48,"g":49},

      {"p":14,"t":1,"x":0,"l":490,"g":478,"a":480},
      {"p":14,"t":1,"x":75,"l":490,"g":482,"a":480},
      {"p":14,"t":1,"x":150,"l":490,"g":488},
      {"p":14,"t":1,"x":225,"l":489,"g":490},
      {"p":14,"t":1,"x":300,"l":489,"g":492},
      {"p":14,"t":1,"x":375,"l":489,"g":490},
      {"p":14,"t":1,"x":450,"l":490,"g":492,"a":498},
      {"p":14,"t":1,"x":525,"l":490,"g":494,"a":500},
      {"p":14,"t":1,"x":600,"l":490,"g":496,"a":498},
      {"p":14,"t":1,"x":675,"l":489,"g":494},
      {"p":14,"t":1,"x":750,"l":488,"g":492},
      {"p":14,"t":1,"x":825,"l":486,"g":480,"a":478},
      {"p":14,"t":1,"x":900,"l":484,"g":476,"a":476},
      {"p":14,"t":1,"x":975,"l":482,"g":474,"a":474},
      {"p":14,"t":1,"x":1050,"l":481,"g":472},
      {"p":14,"t":1,"x":1125,"l":480,"g":478},
      {"p":14,"t":1,"x":1200,"l":480,"g":480},
      {"p":14,"t":1,"x":1275,"l":481,"g":482},
      {"p":14,"t":1,"x":1350,"l":482,"g":486,"a":490},
      {"p":14,"t":1,"x":1425,"l":484,"g":490,"a":494},
      {"p":14,"t":1,"x":1500,"l":484,"g":490,"a":496},
      {"p":14,"t":1,"x":1575,"l":482,"g":488,"a":492},
      {"p":14,"t":1,"x":1650,"l":478,"g":480},
      {"p":14,"t":1,"x":1725,"l":474,"g":472},
      {"p":14,"t":1,"x":1800,"l":470,"g":468},
      {"p":14,"t":1,"x":1875,"l":466,"g":470},
      {"p":14,"t":1,"x":1950,"l":463,"g":474},
      {"p":14,"t":1,"x":2025,"l":460,"g":478},
      {"p":14,"t":1,"x":2100,"l":458,"g":480},
      {"p":14,"t":1,"x":2175,"l":456,"g":476},
      {"p":14,"t":1,"x":2250,"l":454,"g":470},
      {"p":14,"t":1,"x":2325,"l":452,"g":464,"a":458},
      {"p":14,"t":1,"x":2400,"l":450,"g":460,"a":458},
      {"p":14,"t":1,"x":2475,"l":448,"g":456,"a":456},
      {"p":14,"t":1,"x":2550,"l":447,"g":452,"a":455},
      {"p":14,"t":1,"x":2625,"l":445,"g":448,"a":453},
      {"p":14,"t":1,"x":2700,"l":444,"g":446,"a":450},
      {"p":14,"t":1,"x":2775,"l":442,"g":444,"a":449},
      {"p":14,"t":1,"x":2850,"l":441,"g":442},
      {"p":14,"t":1,"x":2925,"l":440,"g":440},

      {"p":14,"t":2,"x":0,"l":370,"g":375,"a":365},
      {"p":14,"t":2,"x":75,"l":371,"g":370,"a":366},
      {"p":14,"t":2,"x":150,"l":372,"g":390},
      {"p":14,"t":2,"x":225,"l":373,"g":380},
      {"p":14,"t":2,"x":300,"l":374,"g":372},
      {"p":14,"t":2,"x":375,"l":375,"g":366},
      {"p":14,"t":2,"x":450,"l":377,"g":368,"a":380},
      {"p":14,"t":2,"x":525,"l":379,"g":388,"a":392},
      {"p":14,"t":2,"x":600,"l":381,"g":392},
      {"p":14,"t":2,"x":675,"l":383,"g":392},
      {"p":14,"t":2,"x":750,"l":385,"g":390},
      {"p":14,"t":2,"x":825,"l":387,"g":394},
      {"p":14,"t":2,"x":900,"l":389,"g":395},
      {"p":14,"t":2,"x":975,"l":391,"g":396},
      {"p":14,"t":2,"x":1050,"l":393,"g":397},
      {"p":14,"t":2,"x":1125,"l":395,"g":396,"a":401},
      {"p":14,"t":2,"x":1200,"l":397,"g":398,"a":403},
      {"p":14,"t":2,"x":1275,"l":399,"g":400,"a":405},
      {"p":14,"t":2,"x":1350,"l":401,"g":402},
      {"p":14,"t":2,"x":1425,"l":403,"g":404},
      {"p":14,"t":2,"x":1500,"l":404,"g":408},
      {"p":14,"t":2,"x":1575,"l":406,"g":410},
      {"p":14,"t":2,"x":1650,"l":408,"g":412},
      {"p":14,"t":2,"x":1725,"l":410,"g":410},
      {"p":14,"t":2,"x":1800,"l":412,"g":412},
      {"p":14,"t":2,"x":1875,"l":414,"g":414},
      {"p":14,"t":2,"x":1950,"l":416,"g":416},
      {"p":14,"t":2,"x":2025,"l":418,"g":418},
      {"p":14,"t":2,"x":2100,"l":420,"g":420},
      {"p":14,"t":2,"x":2175,"l":422,"g":424},
      {"p":14,"t":2,"x":2250,"l":424,"g":426},
      {"p":14,"t":2,"x":2325,"l":426,"g":428},
      {"p":14,"t":2,"x":2400,"l":428,"g":428},
      {"p":14,"t":2,"x":2475,"l":430,"g":432},
      {"p":14,"t":2,"x":2550,"l":431,"g":434},
      {"p":14,"t":2,"x":2625,"l":433,"g":434},
      {"p":14,"t":2,"x":2700,"l":435,"g":436},
      {"p":14,"t":2,"x":2775,"l":437,"g":438},
      {"p":14,"t":2,"x":2850,"l":438,"g":438},
      {"p":14,"t":2,"x":2925,"l":440,"g":440},

      {"p":14,"t":3,"x":0,"l":370,"g":368},
      {"p":14,"t":3,"x":75,"l":368,"g":372},
      {"p":14,"t":3,"x":150,"l":366,"g":366},
      {"p":14,"t":3,"x":225,"l":364,"g":368},
      {"p":14,"t":3,"x":300,"l":362,"g":370},
      {"p":14,"t":3,"x":375,"l":360,"g":352},
      {"p":14,"t":3,"x":450,"l":359,"g":346},
      {"p":14,"t":3,"x":525,"l":358,"g":344},
      {"p":14,"t":3,"x":600,"l":357,"g":348},
      {"p":14,"t":3,"x":675,"l":356,"g":350},
      {"p":14,"t":3,"x":750,"l":355,"g":345,"a":340},
      {"p":14,"t":3,"x":825,"l":354,"g":340,"a":338},
      {"p":14,"t":3,"x":900,"l":353,"g":338},
      {"p":14,"t":3,"x":975,"l":352,"g":350},
      {"p":14,"t":3,"x":1050,"l":351,"g":352},
      {"p":14,"t":3,"x":1125,"l":350,"g":348},
      {"p":14,"t":3,"x":1200,"l":349,"g":352},
      {"p":14,"t":3,"x":1275,"l":348,"g":350},
      {"p":14,"t":3,"x":1350,"l":347,"g":345},
      {"p":14,"t":3,"x":1425,"l":346,"g":346},
      {"p":14,"t":3,"x":1500,"l":344,"g":344,"a":362},
      {"p":14,"t":3,"x":1575,"l":343,"g":343,"a":364},
      {"p":14,"t":3,"x":1650,"l":342,"g":342},
      {"p":14,"t":3,"x":1725,"l":340,"g":340},
      {"p":14,"t":3,"x":1800,"l":338,"g":338},
      {"p":14,"t":3,"x":1875,"l":336,"g":336},
      {"p":14,"t":3,"x":1950,"l":334,"g":334,"a":326},
      {"p":14,"t":3,"x":2025,"l":332,"g":332,"a":324},
      {"p":14,"t":3,"x":2100,"l":330,"g":330},
      {"p":14,"t":3,"x":2175,"l":328,"g":328},
      {"p":14,"t":3,"x":2250,"l":326,"g":326,"a":332},
      {"p":14,"t":3,"x":2325,"l":324,"g":324,"a":331},
      {"p":14,"t":3,"x":2400,"l":322,"g":322,"a":330},
      {"p":14,"t":3,"x":2475,"l":320,"g":320,"a":328},
      {"p":14,"t":3,"x":2550,"l":318,"g":318},
      {"p":14,"t":3,"x":2625,"l":316,"g":316},
      {"p":14,"t":3,"x":2700,"l":314,"g":314},
      {"p":14,"t":3,"x":2775,"l":312,"g":312},
      {"p":14,"t":3,"x":2850,"l":310,"g":310},
      {"p":14,"t":3,"x":2925,"l":308,"g":308},

      {"p":14,"t":4,"x":0,"l":245,"g":245},
      {"p":14,"t":4,"x":75,"l":245,"g":244},
      {"p":14,"t":4,"x":150,"l":245,"g":243},
      {"p":14,"t":4,"x":225,"l":245,"g":242},
      {"p":14,"t":4,"x":300,"l":246,"g":250},
      {"p":14,"t":4,"x":375,"l":247,"g":252},
      {"p":14,"t":4,"x":450,"l":248,"g":254},
      {"p":14,"t":4,"x":525,"l":249,"g":256},
      {"p":14,"t":4,"x":600,"l":250,"g":250},
      {"p":14,"t":4,"x":675,"l":251,"g":252},
      {"p":14,"t":4,"x":750,"l":252,"g":258},
      {"p":14,"t":4,"x":825,"l":254,"g":260},
      {"p":14,"t":4,"x":900,"l":255,"g":262},
      {"p":14,"t":4,"x":975,"l":257,"g":262},
      {"p":14,"t":4,"x":1050,"l":258,"g":262},
      {"p":14,"t":4,"x":1125,"l":260,"g":264},
      {"p":14,"t":4,"x":1200,"l":262,"g":264},
      {"p":14,"t":4,"x":1275,"l":263,"g":264},
      {"p":14,"t":4,"x":1350,"l":265,"g":266},
      {"p":14,"t":4,"x":1425,"l":266,"g":268},
      {"p":14,"t":4,"x":1500,"l":268,"g":270},
      {"p":14,"t":4,"x":1575,"l":270,"g":272},
      {"p":14,"t":4,"x":1650,"l":272,"g":274},
      {"p":14,"t":4,"x":1725,"l":273,"g":276},
      {"p":14,"t":4,"x":1800,"l":275,"g":278},
      {"p":14,"t":4,"x":1875,"l":277,"g":280},
      {"p":14,"t":4,"x":1950,"l":279,"g":282},
      {"p":14,"t":4,"x":2025,"l":281,"g":282},
      {"p":14,"t":4,"x":2100,"l":283,"g":284},
      {"p":14,"t":4,"x":2175,"l":285,"g":286},
      {"p":14,"t":4,"x":2250,"l":287,"g":288},
      {"p":14,"t":4,"x":2325,"l":289,"g":290},
      {"p":14,"t":4,"x":2400,"l":291,"g":296},
      {"p":14,"t":4,"x":2475,"l":293,"g":300},
      {"p":14,"t":4,"x":2550,"l":295,"g":305},
      {"p":14,"t":4,"x":2625,"l":298,"g":310},
      {"p":14,"t":4,"x":2700,"l":301,"g":312},
      {"p":14,"t":4,"x":2775,"l":304,"g":310},
      {"p":14,"t":4,"x":2850,"l":306,"g":308},
      {"p":14,"t":4,"x":2925,"l":308,"g":308},

      {"p":14,"t":5,"x":0,"l":242,"g":240},
      {"p":14,"t":5,"x":75,"l":241,"g":242},
      {"p":14,"t":5,"x":150,"l":240,"g":244},
      {"p":14,"t":5,"x":225,"l":239,"g":246},
      {"p":14,"t":5,"x":300,"l":238,"g":248},
      {"p":14,"t":5,"x":375,"l":237,"g":230,"a":220},
      {"p":14,"t":5,"x":450,"l":236,"g":225,"a":216},
      {"p":14,"t":5,"x":525,"l":235,"g":222,"a":215},
      {"p":14,"t":5,"x":600,"l":234,"g":230},
      {"p":14,"t":5,"x":675,"l":233,"g":232},
      {"p":14,"t":5,"x":750,"l":232,"g":230},
      {"p":14,"t":5,"x":825,"l":231,"g":232},
      {"p":14,"t":5,"x":900,"l":230,"g":234},
      {"p":14,"t":5,"x":975,"l":229,"g":230},
      {"p":14,"t":5,"x":1050,"l":228,"g":228},
      {"p":14,"t":5,"x":1125,"l":227,"g":226},
      {"p":14,"t":5,"x":1200,"l":226,"g":225},
      {"p":14,"t":5,"x":1275,"l":225,"g":224},
      {"p":14,"t":5,"x":1350,"l":224,"g":224},
      {"p":14,"t":5,"x":1425,"l":223,"g":223},
      {"p":14,"t":5,"x":1500,"l":222,"g":222},
      {"p":14,"t":5,"x":1575,"l":221,"g":221},
      {"p":14,"t":5,"x":1650,"l":220,"g":220},
      {"p":14,"t":5,"x":1725,"l":219,"g":219},
      {"p":14,"t":5,"x":1800,"l":218,"g":218},
      {"p":14,"t":5,"x":1875,"l":216,"g":216},
      {"p":14,"t":5,"x":1950,"l":214,"g":214},
      {"p":14,"t":5,"x":2025,"l":212,"g":212},
      {"p":14,"t":5,"x":2100,"l":210,"g":212},
      {"p":14,"t":5,"x":2175,"l":208,"g":210},
      {"p":14,"t":5,"x":2250,"l":206,"g":206},
      {"p":14,"t":5,"x":2325,"l":204,"g":204},
      {"p":14,"t":5,"x":2400,"l":202,"g":202},
      {"p":14,"t":5,"x":2475,"l":200,"g":200},
      {"p":14,"t":5,"x":2550,"l":198,"g":198},
      {"p":14,"t":5,"x":2625,"l":196,"g":196},
      {"p":14,"t":5,"x":2700,"l":194,"g":194},
      {"p":14,"t":5,"x":2775,"l":192,"g":192},
      {"p":14,"t":5,"x":2850,"l":190,"g":190},
      {"p":14,"t":5,"x":2925,"l":188,"g":188},

      {"p":14,"t":6,"x":0,"l":115,"g":112,"a":122},
      {"p":14,"t":6,"x":75,"l":116,"g":114,"a":125},
      {"p":14,"t":6,"x":150,"l":117,"g":116,"a":126},
      {"p":14,"t":6,"x":225,"l":118,"g":118,"a":128},
      {"p":14,"t":6,"x":300,"l":119,"g":120,"a":126},
      {"p":14,"t":6,"x":375,"l":120,"g":122},
      {"p":14,"t":6,"x":450,"l":121,"g":124},
      {"p":14,"t":6,"x":525,"l":122,"g":126},
      {"p":14,"t":6,"x":600,"l":123,"g":128},
      {"p":14,"t":6,"x":675,"l":124,"g":130},
      {"p":14,"t":6,"x":750,"l":125,"g":132},
      {"p":14,"t":6,"x":825,"l":127,"g":136},
      {"p":14,"t":6,"x":900,"l":129,"g":130},
      {"p":14,"t":6,"x":975,"l":131,"g":128},
      {"p":14,"t":6,"x":1050,"l":133,"g":134,"a":140},
      {"p":14,"t":6,"x":1125,"l":135,"g":140,"a":142},
      {"p":14,"t":6,"x":1200,"l":137,"g":142,"a":143},
      {"p":14,"t":6,"x":1275,"l":139,"g":144},
      {"p":14,"t":6,"x":1350,"l":141,"g":146},
      {"p":14,"t":6,"x":1425,"l":143,"g":148},
      {"p":14,"t":6,"x":1500,"l":145,"g":150},
      {"p":14,"t":6,"x":1575,"l":147,"g":152},
      {"p":14,"t":6,"x":1650,"l":149,"g":154},
      {"p":14,"t":6,"x":1725,"l":151,"g":156},
      {"p":14,"t":6,"x":1800,"l":153,"g":158},
      {"p":14,"t":6,"x":1875,"l":155,"g":160},
      {"p":14,"t":6,"x":1950,"l":157,"g":162,"a":166},
      {"p":14,"t":6,"x":2025,"l":159,"g":164},
      {"p":14,"t":6,"x":2100,"l":161,"g":166,"a":170},
      {"p":14,"t":6,"x":2175,"l":163,"g":168},
      {"p":14,"t":6,"x":2250,"l":165,"g":170},
      {"p":14,"t":6,"x":2325,"l":167,"g":172},
      {"p":14,"t":6,"x":2400,"l":169,"g":174},
      {"p":14,"t":6,"x":2475,"l":171,"g":176,"a":178},
      {"p":14,"t":6,"x":2550,"l":173,"g":178,"a":180},
      {"p":14,"t":6,"x":2625,"l":175,"g":180,"a":182},
      {"p":14,"t":6,"x":2700,"l":177,"g":182,"a":184},
      {"p":14,"t":6,"x":2775,"l":179,"g":184},
      {"p":14,"t":6,"x":2850,"l":181,"g":186},
      {"p":14,"t":6,"x":2925,"l":183,"g":188},

      {"p":14,"t":7,"x":0,"l":110,"g":108},
      {"p":14,"t":7,"x":75,"l":110,"g":106},
      {"p":14,"t":7,"x":150,"l":109,"g":112},
      {"p":14,"t":7,"x":225,"l":109,"g":114},
      {"p":14,"t":7,"x":300,"l":108,"g":110},
      {"p":14,"t":7,"x":375,"l":107,"g":92,"a":84},
      {"p":14,"t":7,"x":450,"l":106,"g":90,"a":76},
      {"p":14,"t":7,"x":525,"l":105,"g":88,"a":76},
      {"p":14,"t":7,"x":600,"l":104,"g":100,"a":80},
      {"p":14,"t":7,"x":675,"l":103,"g":104},
      {"p":14,"t":7,"x":750,"l":101,"g":100},
      {"p":14,"t":7,"x":825,"l":99,"g":96},
      {"p":14,"t":7,"x":900,"l":97,"g":94},
      {"p":14,"t":7,"x":975,"l":95,"g":92},
      {"p":14,"t":7,"x":1050,"l":93,"g":90},
      {"p":14,"t":7,"x":1125,"l":91,"g":88},
      {"p":14,"t":7,"x":1200,"l":89,"g":88},
      {"p":14,"t":7,"x":1275,"l":87,"g":86},
      {"p":14,"t":7,"x":1350,"l":85,"g":110,"a":56},
      {"p":14,"t":7,"x":1425,"l":83,"g":108,"a":48},
      {"p":14,"t":7,"x":1500,"l":81,"g":108,"a":48},
      {"p":14,"t":7,"x":1575,"l":79,"g":106,"a":52},
      {"p":14,"t":7,"x":1650,"l":77,"g":80},
      {"p":14,"t":7,"x":1725,"l":75,"g":76},
      {"p":14,"t":7,"x":1800,"l":74,"g":74},
      {"p":14,"t":7,"x":1875,"l":73,"g":73},
      {"p":14,"t":7,"x":1950,"l":72,"g":72,"a":66},
      {"p":14,"t":7,"x":2025,"l":71,"g":71,"a":65},
      {"p":14,"t":7,"x":2100,"l":70,"g":70,"a":64},
      {"p":14,"t":7,"x":2175,"l":69,"g":69},
      {"p":14,"t":7,"x":2250,"l":68,"g":72},
      {"p":14,"t":7,"x":2325,"l":66,"g":70},
      {"p":14,"t":7,"x":2400,"l":64,"g":64},
      {"p":14,"t":7,"x":2475,"l":62,"g":62},
      {"p":14,"t":7,"x":2550,"l":60,"g":60},
      {"p":14,"t":7,"x":2625,"l":58,"g":58},
      {"p":14,"t":7,"x":2700,"l":56,"g":56},
      {"p":14,"t":7,"x":2775,"l":54,"g":54},
      {"p":14,"t":7,"x":2850,"l":52,"g":52},
      {"p":14,"t":7,"x":2925,"l":50,"g":50},

      {"p":14,"t":8,"x":525,"l":-2,"g":5},
      {"p":14,"t":8,"x":600,"l":-3,"g":-2},
      {"p":14,"t":8,"x":675,"l":-4,"g":-6},
      {"p":14,"t":8,"x":750,"l":-4,"g":-8},
      {"p":14,"t":8,"x":825,"l":-4,"g":-8},
      {"p":14,"t":8,"x":900,"l":-3,"g":-8},
      {"p":14,"t":8,"x":975,"l":-3,"g":0},
      {"p":14,"t":8,"x":1050,"l":-2,"g":24},
      {"p":14,"t":8,"x":1125,"l":-2,"g":26},
      {"p":14,"t":8,"x":1200,"l":-1,"g":4},
      {"p":14,"t":8,"x":1275,"l":0,"g":-6},
      {"p":14,"t":8,"x":1350,"l":2,"g":-4},
      {"p":14,"t":8,"x":1425,"l":6,"g":6},
      {"p":14,"t":8,"x":1500,"l":12,"g":14},
      {"p":14,"t":8,"x":1575,"l":18,"g":20},
      {"p":14,"t":8,"x":1650,"l":20,"g":22},
      {"p":14,"t":8,"x":1725,"l":21,"g":22},
      {"p":14,"t":8,"x":1800,"l":22,"g":24},
      {"p":14,"t":8,"x":1875,"l":23,"g":24},
      {"p":14,"t":8,"x":1950,"l":24,"g":26},
      {"p":14,"t":8,"x":2025,"l":25,"g":26},
      {"p":14,"t":8,"x":2100,"l":26,"g":28},
      {"p":14,"t":8,"x":2175,"l":28,"g":30},
      {"p":14,"t":8,"x":2250,"l":30,"g":32},
      {"p":14,"t":8,"x":2325,"l":33,"g":36},
      {"p":14,"t":8,"x":2400,"l":36,"g":38},
      {"p":14,"t":8,"x":2475,"l":40,"g":42},
      {"p":14,"t":8,"x":2550,"l":43,"g":44},
      {"p":14,"t":8,"x":2625,"l":45,"g":46},
      {"p":14,"t":8,"x":2700,"l":46,"g":48},
      {"p":14,"t":8,"x":2775,"l":47,"g":48},
      {"p":14,"t":8,"x":2850,"l":48,"g":50},
      {"p":14,"t":8,"x":2925,"l":49,"g":50}
    ]
  },
  "spacing": 28,
  "bounds": "flush",
  "vconcat": [
    {
      "title": {"text": "10", "offset": -11},
      "width": 465, "height": 210,
      "data": {"name": "tracks"},
      "transform": [{"filter": "datum.p == 10"}],
      "resolve": {"axis": {"x": "independent", "y": "independent"}},
      "layer": [
        {"mark": {"type": "line", "color": "#8c7c7c", "strokeWidth": 1},
         "encoding": {
           "x": {"field": "x", "type": "quantitative", "scale": {"domain": [0, 2960], "nice": false, "zero": false}, "axis": null},
           "y": {"field": "l", "type": "quantitative", "scale": {"domain": [-8, 506], "nice": false, "zero": false}, "axis": {"orient": "left", "values": [0, 100, 200, 300, 400], "ticks": false, "labelPadding": 7}},
           "detail": {"field": "t"},
           "order": {"field": "x"}}},
        {"transform": [{"filter": "isValid(datum.a)"}],
         "mark": {"type": "rule", "color": "#ff2626", "strokeWidth": 2},
         "encoding": {
           "x": {"field": "x", "type": "quantitative", "scale": {"domain": [0, 2960], "nice": false, "zero": false}, "axis": {"orient": "top", "values": [0, 500, 1000, 1500, 2000, 2500], "labels": false, "tickSize": -6}},
           "y": {"field": "l", "type": "quantitative", "scale": {"domain": [-8, 506], "nice": false, "zero": false}, "axis": {"orient": "right", "values": [0, 100, 200, 300, 400, 500], "labels": false, "tickSize": -6}},
           "y2": {"field": "a"}}},
        {"transform": [{"filter": "isValid(datum.a)"}],
         "mark": {"type": "point", "filled": true, "color": "#ff2626", "opacity": 1, "size": 38},
         "encoding": {
           "x": {"field": "x", "type": "quantitative", "scale": {"domain": [0, 2960], "nice": false, "zero": false}, "axis": {"orient": "bottom", "values": [0, 500, 1000, 1500, 2000, 2500], "labels": false, "tickSize": -6}},
           "y": {"field": "a", "type": "quantitative", "scale": {"domain": [-8, 506], "nice": false, "zero": false}, "axis": {"orient": "left", "values": [0, 100, 200, 300, 400, 500], "labels": false, "tickSize": -6}},
           "shape": {"condition": {"test": "datum.a > datum.l", "value": "triangle-up"}, "value": "triangle-down"}}},
        {"mark": {"type": "point", "opacity": 0},
         "encoding": {
           "x": {"field": "x", "type": "quantitative", "scale": {"domain": [0, 2960], "nice": false, "zero": false}, "axis": {"orient": "top", "tickCount": 30, "labels": false, "tickSize": -3}},
           "y": {"field": "g", "type": "quantitative", "scale": {"domain": [-8, 506], "nice": false, "zero": false}, "axis": {"orient": "right", "tickCount": 52, "labels": false, "tickSize": -3}}}},
        {"mark": {"type": "circle", "color": "#2ef05c", "opacity": 1, "size": 40},
         "encoding": {
           "x": {"field": "x", "type": "quantitative", "scale": {"domain": [0, 2960], "nice": false, "zero": false}, "axis": {"orient": "bottom", "tickCount": 30, "labels": false, "tickSize": -3}},
           "y": {"field": "g", "type": "quantitative", "scale": {"domain": [-8, 506], "nice": false, "zero": false}, "axis": {"orient": "left", "tickCount": 52, "labels": false, "tickSize": -3}}}}
      ]
    },
    {
      "title": "12",
      "width": 465, "height": 210,
      "data": {"name": "tracks"},
      "transform": [{"filter": "datum.p == 12"}],
      "resolve": {"axis": {"x": "independent", "y": "independent"}},
      "layer": [
        {"mark": {"type": "line", "color": "#8c7c7c", "strokeWidth": 1},
         "encoding": {
           "x": {"field": "x", "type": "quantitative", "scale": {"domain": [0, 2960], "nice": false, "zero": false}, "axis": null},
           "y": {"field": "l", "type": "quantitative", "scale": {"domain": [-8, 506], "nice": false, "zero": false}, "axis": {"orient": "left", "values": [0, 100, 200, 300, 400], "ticks": false, "labelPadding": 7}},
           "detail": {"field": "t"},
           "order": {"field": "x"}}},
        {"transform": [{"filter": "isValid(datum.a)"}],
         "mark": {"type": "rule", "color": "#ff2626", "strokeWidth": 2},
         "encoding": {
           "x": {"field": "x", "type": "quantitative", "scale": {"domain": [0, 2960], "nice": false, "zero": false}, "axis": {"orient": "top", "values": [0, 500, 1000, 1500, 2000, 2500], "labels": false, "tickSize": -6}},
           "y": {"field": "l", "type": "quantitative", "scale": {"domain": [-8, 506], "nice": false, "zero": false}, "axis": {"orient": "right", "values": [0, 100, 200, 300, 400, 500], "labels": false, "tickSize": -6}},
           "y2": {"field": "a"}}},
        {"transform": [{"filter": "isValid(datum.a)"}],
         "mark": {"type": "point", "filled": true, "color": "#ff2626", "opacity": 1, "size": 38},
         "encoding": {
           "x": {"field": "x", "type": "quantitative", "scale": {"domain": [0, 2960], "nice": false, "zero": false}, "axis": {"orient": "bottom", "values": [0, 500, 1000, 1500, 2000, 2500], "labels": false, "tickSize": -6}},
           "y": {"field": "a", "type": "quantitative", "scale": {"domain": [-8, 506], "nice": false, "zero": false}, "axis": {"orient": "left", "values": [0, 100, 200, 300, 400, 500], "labels": false, "tickSize": -6}},
           "shape": {"condition": {"test": "datum.a > datum.l", "value": "triangle-up"}, "value": "triangle-down"}}},
        {"mark": {"type": "point", "opacity": 0},
         "encoding": {
           "x": {"field": "x", "type": "quantitative", "scale": {"domain": [0, 2960], "nice": false, "zero": false}, "axis": {"orient": "top", "tickCount": 30, "labels": false, "tickSize": -3}},
           "y": {"field": "g", "type": "quantitative", "scale": {"domain": [-8, 506], "nice": false, "zero": false}, "axis": {"orient": "right", "tickCount": 52, "labels": false, "tickSize": -3}}}},
        {"mark": {"type": "circle", "color": "#2ef05c", "opacity": 1, "size": 40},
         "encoding": {
           "x": {"field": "x", "type": "quantitative", "scale": {"domain": [0, 2960], "nice": false, "zero": false}, "axis": {"orient": "bottom", "tickCount": 30, "labels": false, "tickSize": -3}},
           "y": {"field": "g", "type": "quantitative", "scale": {"domain": [-8, 506], "nice": false, "zero": false}, "axis": {"orient": "left", "tickCount": 52, "labels": false, "tickSize": -3}}}}
      ]
    },
    {
      "title": "14",
      "width": 465, "height": 210,
      "data": {"name": "tracks"},
      "transform": [{"filter": "datum.p == 14"}],
      "resolve": {"axis": {"x": "independent", "y": "independent"}},
      "layer": [
        {"mark": {"type": "line", "color": "#8c7c7c", "strokeWidth": 1},
         "encoding": {
           "x": {"field": "x", "type": "quantitative", "scale": {"domain": [0, 2960], "nice": false, "zero": false}, "axis": {"orient": "bottom", "values": [0, 500, 1000, 1500, 2000, 2500], "format": "d", "ticks": false, "labelPadding": 13}},
           "y": {"field": "l", "type": "quantitative", "scale": {"domain": [-8, 506], "nice": false, "zero": false}, "axis": {"orient": "left", "values": [0, 100, 200, 300, 400], "ticks": false, "labelPadding": 7}},
           "detail": {"field": "t"},
           "order": {"field": "x"}}},
        {"transform": [{"filter": "isValid(datum.a)"}],
         "mark": {"type": "rule", "color": "#ff2626", "strokeWidth": 2},
         "encoding": {
           "x": {"field": "x", "type": "quantitative", "scale": {"domain": [0, 2960], "nice": false, "zero": false}, "axis": {"orient": "top", "values": [0, 500, 1000, 1500, 2000, 2500], "labels": false, "tickSize": -6}},
           "y": {"field": "l", "type": "quantitative", "scale": {"domain": [-8, 506], "nice": false, "zero": false}, "axis": {"orient": "right", "values": [0, 100, 200, 300, 400, 500], "labels": false, "tickSize": -6}},
           "y2": {"field": "a"}}},
        {"transform": [{"filter": "isValid(datum.a)"}],
         "mark": {"type": "point", "filled": true, "color": "#ff2626", "opacity": 1, "size": 38},
         "encoding": {
           "x": {"field": "x", "type": "quantitative", "scale": {"domain": [0, 2960], "nice": false, "zero": false}, "axis": {"orient": "bottom", "values": [0, 500, 1000, 1500, 2000, 2500], "labels": false, "tickSize": -6}},
           "y": {"field": "a", "type": "quantitative", "scale": {"domain": [-8, 506], "nice": false, "zero": false}, "axis": {"orient": "left", "values": [0, 100, 200, 300, 400, 500], "labels": false, "tickSize": -6}},
           "shape": {"condition": {"test": "datum.a > datum.l", "value": "triangle-up"}, "value": "triangle-down"}}},
        {"mark": {"type": "point", "opacity": 0},
         "encoding": {
           "x": {"field": "x", "type": "quantitative", "scale": {"domain": [0, 2960], "nice": false, "zero": false}, "axis": {"orient": "top", "tickCount": 30, "labels": false, "tickSize": -3}},
           "y": {"field": "g", "type": "quantitative", "scale": {"domain": [-8, 506], "nice": false, "zero": false}, "axis": {"orient": "right", "tickCount": 52, "labels": false, "tickSize": -3}}}},
        {"mark": {"type": "circle", "color": "#2ef05c", "opacity": 1, "size": 40},
         "encoding": {
           "x": {"field": "x", "type": "quantitative", "scale": {"domain": [0, 2960], "nice": false, "zero": false}, "axis": {"orient": "bottom", "tickCount": 30, "labels": false, "tickSize": -3}},
           "y": {"field": "g", "type": "quantitative", "scale": {"domain": [-8, 506], "nice": false, "zero": false}, "axis": {"orient": "left", "tickCount": 52, "labels": false, "tickSize": -3}}}}
      ]
    }
  ]
}
